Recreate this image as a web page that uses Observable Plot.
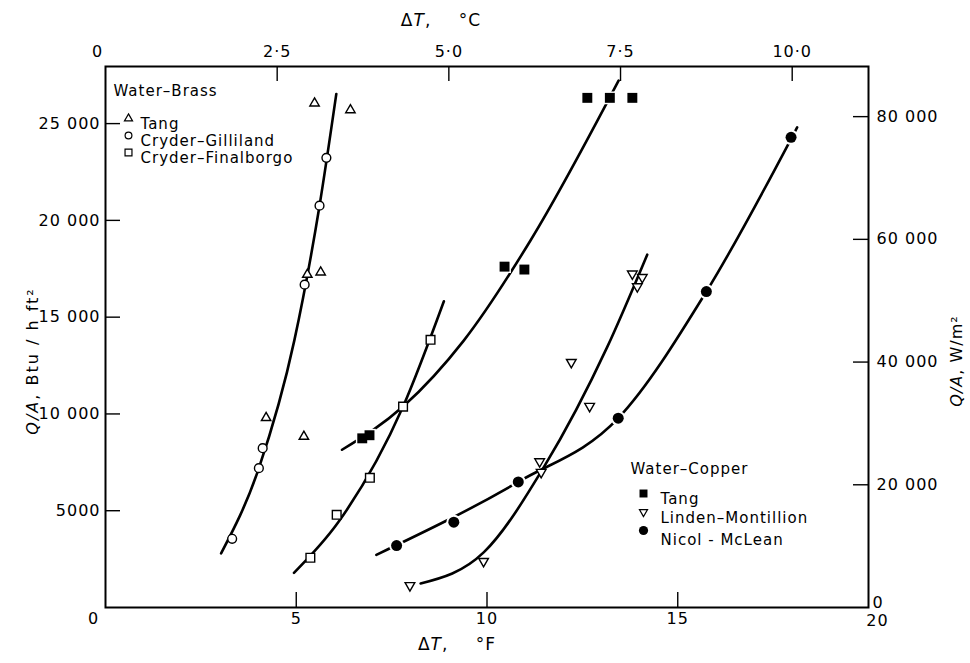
<!DOCTYPE html>
<html><head><meta charset="utf-8">
<script src="https://cdn.jsdelivr.net/npm/d3@7"></script>
<script src="https://cdn.jsdelivr.net/npm/@observablehq/plot@0.6"></script>
<style>body{margin:0;background:#fff}</style>
</head><body><div id="chart"></div>
<script>
// ---------- data (ΔT in °F, Q/A in Btu/h ft²) ----------
const brassTangF = [5.48, 6.42, 5.29, 5.64, 4.21, 5.20];
const brassTangQ = [26050, 25700, 17200, 17320, 9800, 8830];
const gillilandF = [3.32, 4.02, 4.12, 5.22, 5.61, 5.79];
const gillilandQ = [3550, 7200, 8230, 16680, 20760, 23230];
const finalborgoF = [5.37, 6.06, 6.93, 7.80, 8.52];
const finalborgoQ = [2570, 4790, 6700, 10380, 13830];
const copperTangF = [6.73, 6.92, 10.46, 10.98, 12.63, 13.22, 13.81];
const copperTangQ = [8740, 8900, 17610, 17460, 26330, 26330, 26330];
const lindenF = [7.98, 9.91, 11.38, 11.42, 12.21, 12.69, 13.81, 14.07, 13.94];
const lindenQ = [1140, 2390, 7540, 6990, 12670, 10400, 17240, 17060, 16580];
const nicolF = [7.63, 9.13, 10.82, 13.44, 15.75, 17.97];
const nicolQ = [3200, 4410, 6490, 9780, 16320, 24290];

// drawn correlation curves
const brassCurveF = [3.03, 4.02, 4.95, 5.61, 6.05];
const brassCurveQ = [2800, 7200, 13800, 20760, 26530];
const finalborgoCurveF = [4.94, 6.10, 7.80, 8.87];
const finalborgoCurveQ = [1790, 4400, 10380, 15820];
const copperTangCurveF = [6.20, 7.80, 9.39, 11.14, 13.45];
const copperTangCurveQ = [8150, 10380, 13790, 18960, 27220];
const lindenCurveF = [8.26, 9.92, 11.49, 13.15, 14.20];
const lindenCurveQ = [1240, 2860, 7250, 13450, 18230];
const nicolCurveF = [7.10, 10.82, 13.44, 15.75, 18.13];
const nicolCurveQ = [2720, 6490, 9780, 16320, 24810];

// axes
const bottomTicks = [0, 5, 10, 15, 20];                 // °F
const topTicksC = [0, 2.5, 5.0, 7.5, 10.0];              // °C
const topTickLabels = ["0", "2·5", "5·0", "7·5", "10·0"];
const leftTicks = [5000, 10000, 15000, 20000, 25000];
const leftTickLabels = ["5000", "10 000", "15 000", "20 000", "25 000"];
const rightTicksW = [0, 20000, 40000, 60000, 80000];     // W/m²
const rightTickLabels = ["0", "20 000", "40 000", "60 000", "80 000"];
const WM2_PER_BTU = 3.1546;
const F_PER_C = 1.8;

const brassLegend = ["Tang", "Cryder–Gilliland", "Cryder–Finalborgo"];
const copperLegend = ["Tang", "Linden–Montillion", "Nicol - McLean"];
const titleTop = "ΔT,\u2003\u2002°C";
const titleBottom = "ΔT,\u2003\u2002°F";
const titleLeft = "Q/A, Btu / h ft²";
const titleRight = "Q/A, W/m²";

// ---------- helpers ----------
const rows = (xs, ys) => xs.map((x, i) => ({x, y: ys[i]}));
const triangleDown = {draw(ctx, size) {
  const y = Math.sqrt(size / (Math.sqrt(3) * 3));
  ctx.moveTo(0, y * 2);
  ctx.lineTo(-Math.sqrt(3) * y, -y);
  ctx.lineTo(Math.sqrt(3) * y, -y);
  ctx.closePath();
}};

const W = 970, H = 663, mL = 105, mR = 102, mT = 66, mB = 56;
const innerW = W - mL - mR, innerH = H - mT - mB;
const TICK = 15;
const FS = 16;
const line = (xs, ys) => Plot.line(rows(xs, ys), {x: "x", y: "y", curve: "monotone-x", stroke: "black", strokeWidth: 2.6});
const lookup = (vals, labels) => d => labels[vals.findIndex(v => Math.abs(v - d) < 1e-6)];

const topPos = topTicksC.map(c => c * F_PER_C);
const rightPos = rightTicksW.map(w => w / WM2_PER_BTU);

const legendMarks = [];
// Water–Brass legend
legendMarks.push(Plot.text(["Water–Brass"], {x: null, y: null, text: d => d, frameAnchor: "top-left", dx: 8, dy: 19, textAnchor: "start", fontSize: 15}));
const brassSym = [{symbol: "triangle", r: 3.0}, {symbol: "circle", r: 3.4}, {symbol: "square", r: 3.9}];
brassLegend.forEach((lab, i) => {
  legendMarks.push(Plot.dot([lab], {x: null, y: null, frameAnchor: "top-left", dx: 23, dy: 52 + i * 17, symbol: brassSym[i].symbol, r: brassSym[i].r, fill: "white", stroke: "black", strokeWidth: 1.2}));
  legendMarks.push(Plot.text([lab], {x: null, y: null, text: d => d, frameAnchor: "top-left", dx: 35, dy: 52 + i * 17, textAnchor: "start", fontSize: 15}));
});
// Water–Copper legend
legendMarks.push(Plot.text(["Water–Copper"], {x: null, y: null, text: d => d, frameAnchor: "top-left", dx: 525, dy: 397, textAnchor: "start", fontSize: 15}));
const copperSym = [
  {symbol: "square", r: 4.5, fill: "black", stroke: "none"},
  {symbol: triangleDown, r: 3.0, fill: "white", stroke: "black"},
  {symbol: "circle", r: 4.6, fill: "black", stroke: "none"}
];
copperLegend.forEach((lab, i) => {
  legendMarks.push(Plot.dot([lab], {x: null, y: null, frameAnchor: "top-left", dx: 538, dy: 427 + i * 18.5, symbol: copperSym[i].symbol, r: copperSym[i].r, fill: copperSym[i].fill, stroke: copperSym[i].stroke, strokeWidth: 1.2}));
  legendMarks.push(Plot.text([lab], {x: null, y: null, text: d => d, frameAnchor: "top-left", dx: 555, dy: 427 + i * 18.5 + (i === 2 ? 4 : 0), textAnchor: "start", fontSize: 15}));
});

const chart = Plot.plot({
  width: W, height: H,
  marginLeft: mL, marginRight: mR, marginTop: mT, marginBottom: mB,
  style: {fontFamily: "DejaVu Sans", fontSize: "16px", letterSpacing: "1px", color: "black", background: "white", overflow: "visible"},
  x: {domain: [0, 20], axis: null},
  y: {domain: [0, 27950], axis: null},
  marks: [
    // curves
    line(brassCurveF, brassCurveQ),
    line(finalborgoCurveF, finalborgoCurveQ),
    line(copperTangCurveF, copperTangCurveQ),
    line(lindenCurveF, lindenCurveQ),
    line(nicolCurveF, nicolCurveQ),
    // open markers
    Plot.dot(rows(brassTangF, brassTangQ), {x: "x", y: "y", symbol: "triangle", r: 3.5, fill: "white", stroke: "black", strokeWidth: 1.4}),
    Plot.dot(rows(gillilandF, gillilandQ), {x: "x", y: "y", symbol: "circle", r: 4.4, fill: "white", stroke: "black", strokeWidth: 1.4}),
    Plot.dot(rows(finalborgoF, finalborgoQ), {x: "x", y: "y", symbol: "square", r: 4.9, fill: "white", stroke: "black", strokeWidth: 1.4}),
    Plot.dot(rows(lindenF, lindenQ), {x: "x", y: "y", symbol: triangleDown, r: 3.6, fill: "white", stroke: "black", strokeWidth: 1.4}),
    // filled markers with white halo
    Plot.dot(rows(copperTangF, copperTangQ), {x: "x", y: "y", symbol: "square", r: 7.2, fill: "white"}),
    Plot.dot(rows(copperTangF, copperTangQ), {x: "x", y: "y", symbol: "square", r: 5.6, fill: "black"}),
    Plot.dot(rows(nicolF, nicolQ), {x: "x", y: "y", symbol: "circle", r: 7.5, fill: "white"}),
    Plot.dot(rows(nicolF, nicolQ), {x: "x", y: "y", symbol: "circle", r: 5.5, fill: "black"}),
    // inward ticks
    Plot.tickX(bottomTicks.slice(1, -1), {x: d => d, insetTop: innerH - TICK, stroke: "black", strokeWidth: 1.4}),
    Plot.tickX(topPos.slice(1), {x: d => d, insetBottom: innerH - TICK, stroke: "black", strokeWidth: 1.4}),
    Plot.tickY(leftTicks, {y: d => d, insetRight: innerW - TICK, stroke: "black", strokeWidth: 1.4}),
    Plot.tickY(rightPos.slice(1), {y: d => d, insetLeft: innerW - TICK, stroke: "black", strokeWidth: 1.4}),
    // tick labels (corner labels nudged clear of the frame corners, as in the reference)
    Plot.axisX(bottomTicks.slice(1, -1), {anchor: "bottom", tickSize: 0, tickPadding: 5, label: null, fontSize: FS}),
    Plot.axisX(bottomTicks.slice(0, 1), {anchor: "bottom", tickSize: 0, tickPadding: 5, label: null, fontSize: FS, dx: -12}),
    Plot.axisX(bottomTicks.slice(-1), {anchor: "bottom", tickSize: 0, tickPadding: 7, label: null, fontSize: FS, dx: 9}),
    Plot.axisX(topPos.slice(1), {anchor: "top", tickSize: 0, tickPadding: 10, label: null, fontSize: FS, tickFormat: lookup(topPos, topTickLabels)}),
    Plot.axisX(topPos.slice(0, 1), {anchor: "top", tickSize: 0, tickPadding: 10, label: null, fontSize: FS, dx: -8, tickFormat: lookup(topPos, topTickLabels)}),
    Plot.axisY(leftTicks, {anchor: "left", tickSize: 0, tickPadding: 5, label: null, fontSize: FS, tickFormat: lookup(leftTicks, leftTickLabels)}),
    Plot.axisY(rightPos.slice(1), {anchor: "right", tickSize: 0, tickPadding: 8, label: null, fontSize: FS, tickFormat: lookup(rightPos, rightTickLabels)}),
    Plot.axisY(rightPos.slice(0, 1), {anchor: "right", tickSize: 0, tickPadding: 4, label: null, fontSize: FS, dy: -5, tickFormat: lookup(rightPos, rightTickLabels)}),
    // titles
    Plot.text([titleTop], {x: null, y: null, text: d => d, frameAnchor: "top", textAnchor: "middle", dx: -46, dy: -53, fontSize: 17}),
    Plot.text([titleBottom], {x: null, y: null, text: d => d, frameAnchor: "bottom", textAnchor: "middle", dx: -30, dy: 42, fontSize: 17}),
    Plot.text([titleLeft], {x: null, y: null, text: d => d, frameAnchor: "left", textAnchor: "middle", dx: -73, dy: 24, rotate: -90, fontSize: 16}),
    Plot.text([titleRight], {x: null, y: null, text: d => d, frameAnchor: "right", textAnchor: "middle", dx: 88, dy: 24, rotate: -90, fontSize: 16}),
    ...legendMarks,
    Plot.frame({stroke: "black", strokeWidth: 2})
  ]
});

// italic symbols in titles
d3.select(chart).selectAll("text").each(function() {
  const t = this.textContent;
  const sel = d3.select(this);
  if (t === titleTop || t === titleBottom) {
    sel.text(null);
    sel.append("tspan").text("Δ");
    sel.append("tspan").attr("font-style", "italic").text("T");
    sel.append("tspan").text(t.slice(2));
  } else if (t === titleLeft || t === titleRight) {
    sel.text(null);
    sel.append("tspan").attr("font-style", "italic").text("Q/A");
    sel.append("tspan").text(t.slice(3));
    if (t === titleLeft) sel.attr("letter-spacing", "2px");
  }
});

document.getElementById("chart").appendChild(chart);
</script>
</body></html>
